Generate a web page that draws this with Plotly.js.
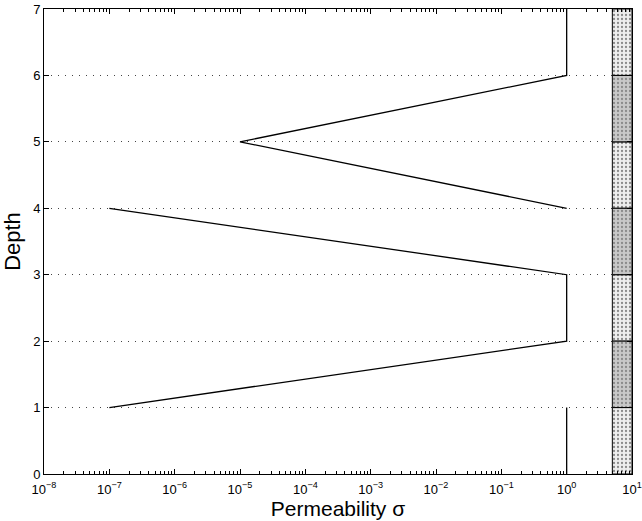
<!DOCTYPE html>
<html>
<head>
<meta charset="utf-8">
<script src="https://cdn.plot.ly/plotly-3.0.1.min.js"></script>
<style>html,body{margin:0;padding:0;background:#fff;}#chart{width:642px;height:521px;}</style>
</head>
<body>
<div id="chart"></div>
<script>
// Permeability profile (null breaks the line)
const sigma = [1, 1, null, 1e-7, 1, 1, 1e-7, null, 1, 1e-5, 1, 1];
const depth = [0, 1, null, 1, 2, 3, 4, null, 4, 5, 6, 7];

// Layer column on the right
const layerCenter = [0.5, 1.5, 2.5, 3.5, 4.5, 5.5, 6.5];
const layerDense  = [false, true, false, true, false, true, false];
const layerStart = 5;
const layerEnd = 10;

// Tick labels
const xExponents = [-8, -7, -6, -5, -4, -3, -2, -1, 0, 1];
const xTickVals = xExponents.map(e => Math.pow(10, e));
const xTickText = xExponents.map(e => '10<sup>' + (e < 0 ? '\u2212' + (-e) : e) + '</sup>');
const xMinorVals = [];
xExponents.slice(0, -1).forEach(e => { for (let m = 2; m <= 9; m++) xMinorVals.push(m * Math.pow(10, e)); });

const light = layerCenter.filter((_, i) => !layerDense[i]);
const dark = layerCenter.filter((_, i) => layerDense[i]);

function layerTrace(ys, fill) {
  return {
    type: 'bar', orientation: 'h',
    y: ys, x: ys.map(() => layerEnd - layerStart), base: ys.map(() => layerStart),
    width: 1,
    marker: {
      color: fill,
      line: {color: '#000', width: 1},
      pattern: {shape: '.', bgcolor: fill, fgcolor: '#8a8a8a', size: 4, solidity: 0.25}
    },
    hoverinfo: 'skip', showlegend: false
  };
}

const traces = [
  layerTrace(light, '#eeeeee'),
  layerTrace(dark, '#c8c8c8'),
  {
    type: 'scatter', mode: 'lines', x: sigma, y: depth,
    line: {color: '#000', width: 1.3}, connectgaps: false,
    showlegend: false, hoverinfo: 'skip'
  }
];

const layout = {
  width: 642, height: 521,
  margin: {l: 44, r: 10, t: 9, b: 47},
  paper_bgcolor: '#fff', plot_bgcolor: '#fff',
  font: {family: 'Liberation Sans, Arial, sans-serif', color: '#000', size: 13},
  showlegend: false,
  bargap: 0,
  xaxis: {
    type: 'log', range: [-8, 1],
    tickmode: 'array', tickvals: xTickVals, ticktext: xTickText,
    ticks: 'inside', ticklen: 5, tickcolor: '#000',
    minor: {tickmode: 'array', tickvals: xMinorVals, ticks: 'inside', ticklen: 3, tickcolor: '#000', showgrid: false},
    showline: true, linecolor: '#000', linewidth: 1, mirror: 'ticks',
    showgrid: false, zeroline: false,
    tickfont: {size: 13}, ticklabelstandoff: 3, ticklabeloverflow: 'allow',
    title: {text: 'Permeability σ', font: {size: 21}, standoff: 3}
  },
  yaxis: {
    range: [0, 7], dtick: 1,
    ticks: 'inside', ticklen: 5, tickcolor: '#000',
    showline: true, linecolor: '#000', linewidth: 1, mirror: 'ticks',
    showgrid: true, gridcolor: '#444', griddash: '1px,6px', gridwidth: 1,
    zeroline: false,
    tickfont: {size: 13},
    title: {text: 'Depth', font: {size: 22}, standoff: 6}
  }
};

Plotly.newPlot('chart', traces, layout, {staticPlot: true, displayModeBar: false});
</script>
</body>
</html>
